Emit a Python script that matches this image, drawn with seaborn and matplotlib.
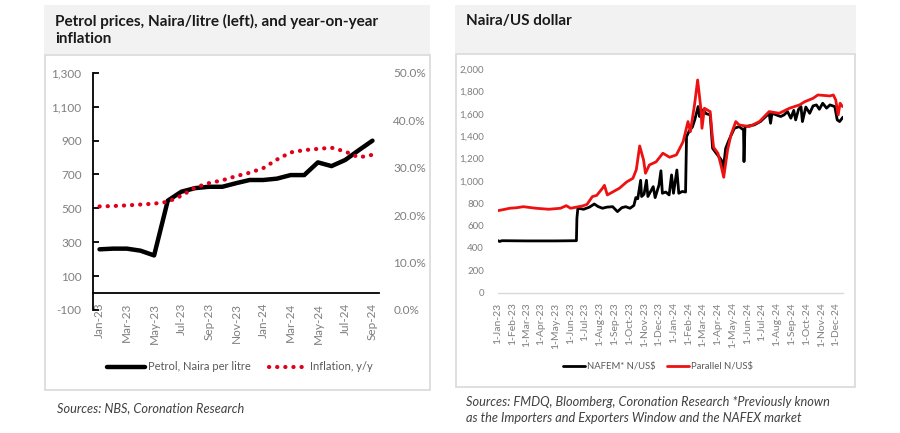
import numpy as np
import matplotlib
matplotlib.use("Agg")
import matplotlib.pyplot as plt
import matplotlib.patches as mpatches
from matplotlib.ticker import FuncFormatter
import pandas as pd
import seaborn as sns

# ---- left chart: petrol price vs inflation (monthly) ----
months = ["Jan-23", "Feb-23", "Mar-23", "Apr-23", "May-23", "Jun-23", "Jul-23",
          "Aug-23", "Sep-23", "Oct-23", "Nov-23", "Dec-23", "Jan-24", "Feb-24",
          "Mar-24", "Apr-24", "May-24", "Jun-24", "Jul-24", "Aug-24", "Sep-24"]
petrol = [258, 262, 262, 250, 222, 545, 598, 619, 627, 627, 648, 667, 667, 675,
          696, 696, 771, 749, 785, 843, 899]
inflation = [21.82, 21.91, 22.04, 22.22, 22.41, 22.79, 24.08, 25.80, 26.72, 27.33,
             28.20, 28.92, 29.90, 31.70, 33.20, 33.69, 33.95, 34.19, 33.40, 32.15, 32.70]

# ---- right chart: naira / US dollar ----
nafem_dates = ["2023-01-02", "2023-01-05", "2023-01-10", "2023-03-01", "2023-05-01",
               "2023-06-13", "2023-06-14", "2023-06-16", "2023-06-28", "2023-07-10",
               "2023-07-20", "2023-07-28", "2023-08-06", "2023-08-15", "2023-08-27",
               "2023-09-06", "2023-09-15", "2023-09-23", "2023-10-02", "2023-10-10",
               "2023-10-14", "2023-10-18", "2023-10-24", "2023-10-26", "2023-10-31",
               "2023-11-05", "2023-11-08", "2023-11-13", "2023-11-19", "2023-11-23",
               "2023-12-01", "2023-12-05", "2023-12-08", "2023-12-15", "2023-12-22",
               "2023-12-27", "2023-12-31", "2024-01-07", "2024-01-11", "2024-01-18",
               "2024-01-25", "2024-01-27", "2024-02-02", "2024-02-08", "2024-02-13",
               "2024-02-20", "2024-02-23", "2024-02-26", "2024-03-01", "2024-03-08",
               "2024-03-16", "2024-03-21", "2024-03-28", "2024-04-08", "2024-04-12",
               "2024-04-17", "2024-04-24", "2024-05-05", "2024-05-15", "2024-05-24",
               "2024-05-25", "2024-05-27", "2024-06-15", "2024-06-28", "2024-07-16",
               "2024-07-19", "2024-07-22", "2024-08-09", "2024-08-16", "2024-08-23",
               "2024-08-30", "2024-09-05", "2024-09-09", "2024-09-15", "2024-09-20",
               "2024-09-23", "2024-09-30", "2024-10-08", "2024-10-15", "2024-10-22",
               "2024-10-28", "2024-11-04", "2024-11-12", "2024-11-19", "2024-11-29",
               "2024-12-04", "2024-12-09", "2024-12-16"]
nafem_vals = [465, 458, 465, 463, 463,
              465, 665, 755, 746, 765,
              793, 770, 755, 765, 769,
              725, 760, 769, 755, 780,
              850, 840, 1005, 860, 880,
              1005, 860, 900, 948, 850,
              963, 1090, 889, 900, 874,
              1053, 889, 1097, 889, 905,
              900, 1395, 1450, 1480, 1545,
              1664, 1575, 1620, 1634, 1600,
              1590, 1291, 1250, 1187, 1097,
              1290, 1366, 1470, 1485, 1455,
              1172, 1485, 1500, 1530, 1604,
              1515, 1604, 1575, 1590, 1620,
              1560, 1630, 1545, 1640, 1664,
              1530, 1660, 1604, 1670, 1679,
              1640, 1694, 1650, 1679, 1664,
              1545, 1530, 1570]

parallel_dates = ["2023-01-02", "2023-01-15", "2023-01-26", "2023-02-10", "2023-02-23",
                  "2023-03-21", "2023-04-17", "2023-05-11", "2023-05-23", "2023-06-01",
                  "2023-06-26", "2023-07-05", "2023-07-16", "2023-07-25", "2023-08-06",
                  "2023-08-10", "2023-08-16", "2023-09-10", "2023-09-25", "2023-10-08",
                  "2023-10-15", "2023-10-22", "2023-10-26", "2023-10-30", "2023-11-03",
                  "2023-11-11", "2023-11-25", "2023-12-09", "2023-12-23", "2024-01-06",
                  "2024-01-20", "2024-01-30", "2024-02-04", "2024-02-13", "2024-02-19",
                  "2024-02-26", "2024-02-28", "2024-03-04", "2024-03-16", "2024-03-20",
                  "2024-03-23", "2024-04-01", "2024-04-08", "2024-04-13", "2024-04-21",
                  "2024-04-28", "2024-05-08", "2024-05-15", "2024-06-05", "2024-06-26",
                  "2024-07-16", "2024-08-06", "2024-08-27", "2024-09-17", "2024-09-28",
                  "2024-10-15", "2024-10-25", "2024-11-19", "2024-11-26", "2024-12-01",
                  "2024-12-06", "2024-12-10", "2024-12-15"]
parallel_vals = [734, 745, 755, 760, 769,
                 755, 746, 755, 778, 755,
                 776, 790, 859, 870, 934,
                 960, 874, 934, 990, 1023,
                 1100, 1312, 1250, 1187, 1068,
                 1142, 1170, 1247, 1211, 1232,
                 1351, 1530, 1440, 1694, 1902,
                 1634, 1470, 1649, 1619, 1420,
                 1300, 1247, 1127, 1032, 1276,
                 1411, 1530, 1500, 1485, 1530,
                 1619, 1604, 1649, 1679, 1708,
                 1738, 1768, 1759, 1768, 1723,
                 1589, 1694, 1664]

sns.set_style("white")
plt.rcParams["font.family"] = ["Lato", "DejaVu Sans"]

W, H = 900, 433
fig = plt.figure(figsize=(9, 4.33), dpi=100)
fig.patch.set_facecolor("white")


def box(x0, y0, x1, y1, **kw):
    fig.add_artist(mpatches.Rectangle((x0 / W, 1 - y1 / H), (x1 - x0) / W, (y1 - y0) / H,
                                      transform=fig.transFigure, zorder=-10, **kw))


def axrect(x0, y0, x1, y1):
    return [x0 / W, 1 - y1 / H, (x1 - x0) / W, (y1 - y0) / H]


# panel backgrounds
box(44, 5, 430, 54, facecolor="#f2f2f2", edgecolor="none")
box(45, 55, 430, 390, facecolor="white", edgecolor="#d9d9d9", linewidth=1.2)
box(455, 5, 856, 53, facecolor="#f2f2f2", edgecolor="none")
box(456, 54, 855, 387, facecolor="white", edgecolor="#d9d9d9", linewidth=1.2)

grey = "#7f7f7f"

# ---------------- left chart ----------------
ax = fig.add_axes(axrect(92.7, 72.7, 379.3, 310))
ax.set_facecolor("none")
idx = np.arange(len(months))
sns.lineplot(x=idx, y=petrol, ax=ax, color="black", linewidth=3.2,
             solid_capstyle="round", solid_joinstyle="round",
             label="Petrol, Naira per litre", legend=False)
ax.set_xlim(-0.5, len(months) - 0.5)
ax.set_ylim(-100, 1300)
ax.spines["bottom"].set_position(("data", 0))
ax.set_yticks(range(-100, 1301, 200))
ax.yaxis.set_major_formatter(FuncFormatter(lambda v, p: f"{int(v):,}"))
ax.set_xticks(idx[::2])
ax.set_xticklabels(months[::2])
ax.set_xticks(np.arange(1.5, len(months) - 0.5, 2), minor=True)
for s in ["top", "right"]:
    ax.spines[s].set_visible(False)
ax.spines["left"].set_color("black")
ax.spines["left"].set_linewidth(1.3)
ax.spines["bottom"].set_color("black")
ax.spines["bottom"].set_linewidth(1.3)
ax.tick_params(axis="x", which="major", length=0, pad=7, labelsize=8.5,
               labelcolor=grey, labelrotation=90)
ax.tick_params(axis="x", which="minor", direction="in", length=4, width=1.3, color="black")
ax.tick_params(axis="y", direction="in", length=4, width=1.3, color="black",
               pad=8, labelsize=8.5, labelcolor=grey)
ax.set_xlabel("")
ax.set_ylabel("")

ax2 = ax.twinx()
sns.lineplot(x=idx, y=np.array(inflation) / 100, ax=ax2, color="#e0001b",
             linewidth=3.0, linestyle=(0, (0.05, 1.9)), dash_capstyle="round",
             label="Inflation, y/y", legend=False)
ax2.set_ylim(0, 0.5)
ax2.set_yticks(np.arange(0, 0.51, 0.1))
ax2.yaxis.set_major_formatter(FuncFormatter(lambda v, p: f"{v * 100:.1f}%"))
for s in ax2.spines.values():
    s.set_visible(False)
ax2.tick_params(axis="y", length=0, pad=10, labelsize=8.5, labelcolor=grey)
ax2.set_ylabel("")

h1, l1 = ax.get_legend_handles_labels()
h2, l2 = ax2.get_legend_handles_labels()
fig.legend(h1 + h2, l1 + l2, loc="center", bbox_to_anchor=(240 / W, 1 - 367 / H),
           ncol=2, frameon=False, fontsize=8, labelcolor="#595959",
           handlelength=3.4, handletextpad=0.3, columnspacing=1.6)

fig.text(55 / W, 1 - 30 / H, "Petrol prices, Naira/litre (left), and year-on-year\ninflation",
         fontsize=11, fontweight="bold", color="#1a1a1a", va="center", ha="left",
         linespacing=1.2)
fig.text(57 / W, 1 - 408 / H, "Sources: NBS, Coronation Research", fontsize=9.2,
         style="italic", color="#404040", va="center")

# ---------------- right chart ----------------
fx = pd.DataFrame({"date": pd.to_datetime(nafem_dates), "val": nafem_vals})
px = pd.DataFrame({"date": pd.to_datetime(parallel_dates), "val": parallel_vals})

bx = fig.add_axes(axrect(497.7, 69, 843, 292.7))
bx.set_facecolor("none")
sns.lineplot(data=fx, x="date", y="val", ax=bx, color="black", linewidth=2.0,
             label="NAFEM* N/US$", legend=False)
sns.lineplot(data=px, x="date", y="val", ax=bx, color="#ee1111", linewidth=2.0,
             label="Parallel N/US$", legend=False)
bx.set_xlim(pd.Timestamp("2023-01-01"), pd.Timestamp("2024-12-16"))
bx.set_ylim(0, 2000)
bx.set_yticks(range(0, 2001, 200))
bx.yaxis.set_major_formatter(FuncFormatter(lambda v, p: f"{int(v):,}"))
tick_dates = pd.date_range("2023-01-01", "2024-12-01", freq="MS")
bx.set_xticks(tick_dates)
bx.set_xticklabels([f"{d.day}-{d:%b-%y}" for d in tick_dates], rotation=90)
for s in ["top", "right", "left"]:
    bx.spines[s].set_visible(False)
bx.spines["bottom"].set_color("#d9d9d9")
bx.spines["bottom"].set_linewidth(1.0)
bx.tick_params(axis="x", direction="out", length=4, width=1.0, color="#d9d9d9",
               pad=3, labelsize=7.5, labelcolor=grey)
bx.tick_params(axis="y", length=0, pad=10, labelsize=7, labelcolor=grey)
bx.set_xlabel("")
bx.set_ylabel("")
bx.legend(loc="center", bbox_to_anchor=(658 / W, 1 - 367 / H),
          bbox_transform=fig.transFigure, ncol=2, frameon=False, fontsize=6.8,
          labelcolor="#595959", handlelength=2.3, handletextpad=0.15,
          columnspacing=1.3)

fig.text(466 / W, 1 - 21 / H, "Naira/US dollar", fontsize=11, fontweight="bold",
         color="#1a1a1a", va="center", ha="left")
fig.text(466 / W, 1 - 402 / H, "Sources: FMDQ, Bloomberg, Coronation Research *Previously known",
         fontsize=9.2, style="italic", color="#404040", va="center")
fig.text(466 / W, 1 - 418 / H, "as the Importers and Exporters Window and the NAFEX market",
         fontsize=9.2, style="italic", color="#404040", va="center")

fig.savefig("out.png", dpi=100)
